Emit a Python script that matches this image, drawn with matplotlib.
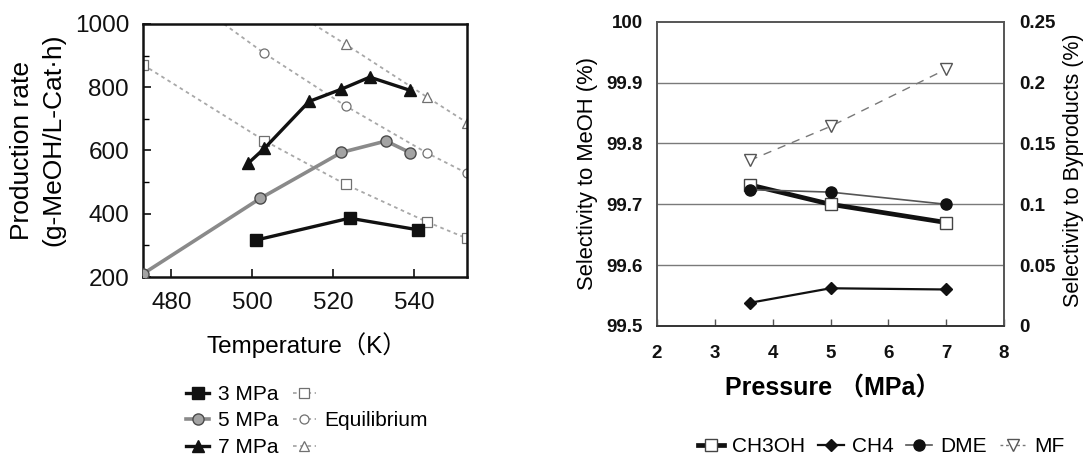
"""
Methanol synthesis: production rate vs temperature and selectivity vs pressure.
"""

import matplotlib
matplotlib.use("Agg")
import matplotlib.pyplot as plt
from matplotlib.lines import Line2D
from matplotlib.ticker import MultipleLocator

# ---------------------------------------------------------------------------
# Data — left panel (production rate, g-MeOH/L-Cat·h)
# ---------------------------------------------------------------------------
temp_3mpa = [501, 524, 541]
rate_3mpa = [317, 386, 349]
temp_5mpa = [473, 502, 522, 533, 539]
rate_5mpa = [210, 449, 594, 630, 593]
temp_7mpa = [499, 503, 514, 522, 529, 539]
rate_7mpa = [560, 607, 755, 794, 832, 790]

# equilibrium curves (first point of 5/7 MPa is where the curve meets the top frame)
eq_temp_3mpa = [473, 503, 523, 543, 553]
eq_rate_3mpa = [871, 631, 493, 375, 322]
eq_temp_5mpa = [493, 503, 523, 543, 553]
eq_rate_5mpa = [1000, 907, 741, 593, 528]
eq_temp_7mpa = [515, 523, 543, 553]
eq_rate_7mpa = [1000, 936, 770, 688]

# ---------------------------------------------------------------------------
# Data — right panel (selectivity, %)
# ---------------------------------------------------------------------------
pressure = [3.6, 5, 7]
sel_ch3oh = [99.732, 99.700, 99.670]
sel_ch4 = [0.019, 0.031, 0.030]
sel_dme = [0.112, 0.110, 0.100]
sel_mf = [0.136, 0.164, 0.211]

COLORS = {
    "black": "#111111",
    "gray_line": "#8a8a8a",
    "gray_face": "#a3a3a3",
    "eq": "#a8a8a8",
    "eq_marker": "#707070",
    "grid": "#7a7a7a",
    "spine": "#555555",
}

SANS = ["Liberation Sans", "Noto Sans CJK JP"]
plt.rcParams["font.family"] = SANS

fig = plt.figure(figsize=(10.86, 4.59), dpi=100)

# ---------------------------------------------------------------------------
# Left panel
# ---------------------------------------------------------------------------
axL = fig.add_axes([143 / 1086, 1 - 277 / 459, 324 / 1086, 253 / 459])

eq_kw = dict(color=COLORS["eq"], lw=1.3, ls=(0, (2, 2)),
             mfc="white", mec=COLORS["eq_marker"], mew=0.9, ms=6.5)
axL.plot(eq_temp_3mpa, eq_rate_3mpa, marker="s", **eq_kw)
axL.plot(eq_temp_5mpa, eq_rate_5mpa, marker="o", markevery=[1, 2, 3, 4], **eq_kw)
axL.plot(eq_temp_7mpa, eq_rate_7mpa, marker="^", markevery=[1, 2, 3], **eq_kw)

axL.plot(temp_5mpa, rate_5mpa, color=COLORS["gray_line"], lw=2.6, marker="o",
         ms=8, mfc=COLORS["gray_face"], mec="#4a4a4a", mew=1.0, zorder=4)
axL.plot(temp_3mpa, rate_3mpa, color=COLORS["black"], lw=2.4, marker="s",
         ms=8, mfc=COLORS["black"], mec=COLORS["black"], zorder=5)
axL.plot(temp_7mpa, rate_7mpa, color=COLORS["black"], lw=2.4, marker="^",
         ms=8, mfc=COLORS["black"], mec=COLORS["black"], zorder=5)

axL.set_xlim(473, 553)
axL.set_ylim(200, 1000)
axL.set_xticks([480, 500, 520, 540])
axL.set_yticks([200, 400, 600, 800, 1000])
axL.yaxis.set_minor_locator(MultipleLocator(100))
axL.tick_params(axis="both", which="major", direction="in", length=6, width=1.2,
                labelsize=17.5, colors=COLORS["black"])
axL.tick_params(axis="x", pad=11)
axL.tick_params(axis="y", pad=10)
axL.tick_params(axis="y", which="minor", direction="in", length=4, width=1.0)
for sp in axL.spines.values():
    sp.set_linewidth(1.8)
    sp.set_color(COLORS["black"])

fig.text(22 / 1086, 1 - 151 / 459, "Production rate", rotation=90,
         ha="center", va="center", fontsize=19)
fig.text(53 / 1086, 1 - 140 / 459, "(g-MeOH/L-Cat·h)", rotation=90,
         ha="center", va="center", fontsize=19)
fig.text(307 / 1086, 1 - 345 / 459, "Temperature（K）",
         ha="center", va="center", fontsize=17.5)

leg_handles = [
    Line2D([], [], color=COLORS["black"], lw=2.4, marker="s", ms=8),
    Line2D([], [], color=COLORS["gray_line"], lw=2.6, marker="o", ms=8,
           mfc=COLORS["gray_face"], mec="#4a4a4a"),
    Line2D([], [], color=COLORS["black"], lw=2.4, marker="^", ms=8),
    Line2D([], [], marker="s", **eq_kw),
    Line2D([], [], marker="o", **eq_kw),
    Line2D([], [], marker="^", **eq_kw),
]
fig.legend(leg_handles, ["3 MPa", "5 MPa", "7 MPa", "", "Equilibrium", ""],
           ncol=2, loc="center", bbox_to_anchor=(307 / 1086, 1 - 421 / 459),
           frameon=False, fontsize=15, numpoints=1, handlelength=1.1,
           handletextpad=0.4, columnspacing=0.7, labelspacing=0.36,
           borderpad=0)

# ---------------------------------------------------------------------------
# Right panel
# ---------------------------------------------------------------------------
axR = fig.add_axes([657 / 1086, 1 - 326 / 459, 347 / 1086, 304.3 / 459])
axB = axR.twinx()

axR.set_xlim(2, 8)
axR.set_ylim(99.5, 100)
axB.set_ylim(0, 0.25)
axR.set_yticks([99.5, 99.6, 99.7, 99.8, 99.9, 100])
axR.set_yticklabels(["99.5", "99.6", "99.7", "99.8", "99.9", "100"])
axB.set_yticks([0, 0.05, 0.1, 0.15, 0.2, 0.25])
axB.set_yticklabels(["0", "0.05", "0.1", "0.15", "0.2", "0.25"])
axR.set_xticks(range(2, 9))

for yv in [99.6, 99.7, 99.8, 99.9]:
    axR.axhline(yv, color=COLORS["grid"], lw=1.0, zorder=0)

axR.plot(pressure, sel_ch3oh, color=COLORS["black"], lw=3.4, marker="s", ms=9,
         mfc="white", mec="#444444", mew=1.0, zorder=3)
axB.plot(pressure, sel_ch4, color=COLORS["black"], lw=1.6, marker="D", ms=6,
         mfc=COLORS["black"], mec=COLORS["black"], zorder=3)
axB.plot(pressure, sel_dme, color="#555555", lw=1.2, marker="o", ms=8,
         mfc=COLORS["black"], mec=COLORS["black"], zorder=4)
axB.plot(pressure, sel_mf, color="#777777", lw=1.0, ls=(0, (6, 5)), marker="v",
         ms=8, mfc="white", mec="#555555", mew=1.0, zorder=3)

axR.tick_params(axis="x", direction="in", length=5, width=1.0, labelsize=13.5,
                pad=14, colors=COLORS["spine"], labelcolor=COLORS["black"])
axR.tick_params(axis="y", length=0, labelsize=13.5, pad=10,
                labelcolor=COLORS["black"])
axB.tick_params(axis="y", length=0, labelsize=13.5, pad=11,
                labelcolor=COLORS["black"])
for lab in axR.get_xticklabels() + axR.get_yticklabels() + axB.get_yticklabels():
    lab.set_fontweight("bold")
for ax in (axR, axB):
    for sp in ax.spines.values():
        sp.set_linewidth(1.2)
        sp.set_color(COLORS["spine"])
    ax.spines["bottom"].set_color("#333333")

fig.text(588 / 1086, 1 - 173 / 459, "Selectivity to MeOH (%)", rotation=90,
         ha="center", va="center", fontsize=15.8)
fig.text(1073 / 1086, 1 - 170 / 459, "Selectivity to Byproducts (%)", rotation=90,
         ha="center", va="center", fontsize=15.5)
fig.text(833 / 1086, 1 - 388 / 459, "Pressure （MPa）", ha="center", va="center",
         fontsize=18, fontweight="bold")

right_handles = [
    Line2D([], [], color=COLORS["black"], lw=3.4, marker="s", ms=9,
           mfc="white", mec="#444444"),
    Line2D([], [], color=COLORS["black"], lw=1.6, marker="D", ms=6),
    Line2D([], [], color="#555555", lw=1.2, marker="o", ms=8,
           mfc=COLORS["black"], mec=COLORS["black"]),
    Line2D([], [], color="#777777", lw=1.0, ls=(0, (2, 2)), marker="v", ms=8,
           mfc="white", mec="#555555"),
]
fig.legend(right_handles, ["CH3OH", "CH4", "DME", "MF"], ncol=4, loc="center",
           bbox_to_anchor=(881 / 1086, 1 - 447 / 459), frameon=False,
           fontsize=15, numpoints=1, handlelength=1.25, handletextpad=0.4,
           columnspacing=0.6, borderpad=0)

fig.savefig("out.png", dpi=100, facecolor="white")
